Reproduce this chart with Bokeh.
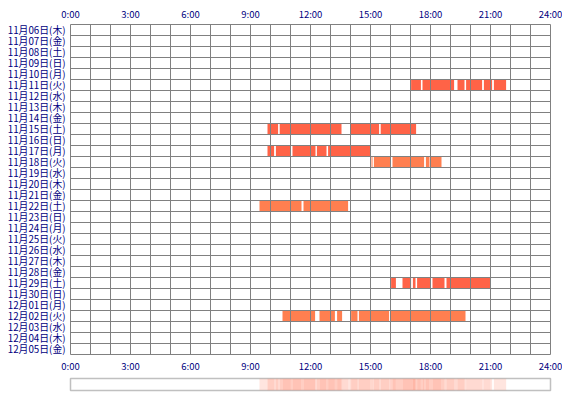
import numpy as np
from bokeh.plotting import figure
from bokeh.models import Range1d, LinearAxis, FixedTicker, ColumnDataSource
from bokeh.layouts import column
from bokeh.embed import file_html
from bokeh.resources import INLINE

# ---------------- data ----------------
days = ["11月06日(木)", "11月07日(金)", "11月08日(土)", "11月09日(日)", "11月10日(月)",
        "11月11日(火)", "11月12日(水)", "11月13日(木)", "11月14日(金)", "11月15日(土)",
        "11月16日(日)", "11月17日(月)", "11月18日(火)", "11月19日(水)", "11月20日(木)",
        "11月21日(金)", "11月22日(土)", "11月23日(日)", "11月24日(月)", "11月25日(火)",
        "11月26日(水)", "11月27日(木)", "11月28日(金)", "11月29日(土)", "11月30日(日)",
        "12月01日(月)", "12月02日(火)", "12月03日(水)", "12月04日(木)", "12月05日(金)"]

hour_ticks = [0, 3, 6, 9, 12, 15, 18, 21, 24]
hour_labels = ["0:00", "3:00", "6:00", "9:00", "12:00", "15:00", "18:00", "21:00", "24:00"]

# sessions (hours of day)
seg_day = (["11月11日(火)"] * 6 + ["11月15日(土)"] * 4 + ["11月17日(月)"] * 5 +
           ["11月18日(火)"] * 5 + ["11月22日(土)"] * 2 + ["11月29日(土)"] * 6 +
           ["12月02日(火)"] * 6)
seg_start = [17.03, 17.60, 19.35, 19.78, 20.67, 21.17,
             9.85, 10.46, 13.98, 15.51,
             9.85, 10.27, 11.10, 12.32, 12.88,
             15.05, 15.17, 16.10, 17.77, 18.02,
             9.45, 11.65,
             16.03, 16.60, 17.12, 17.33, 18.10, 18.80,
             10.60, 12.45, 13.33, 14.03, 14.42, 15.98]
seg_end = [17.52, 19.18, 19.70, 20.58, 21.08, 21.78,
           10.38, 13.55, 15.43, 17.28,
           10.18, 11.02, 12.25, 12.80, 15.00,
           15.10, 16.02, 17.68, 17.95, 18.55,
           11.55, 13.88,
           16.27, 17.03, 17.25, 18.02, 18.70, 21.00,
           12.23, 13.22, 13.58, 14.35, 15.93, 19.75]
coral_days = {"11月18日(火)", "11月22日(土)", "12月02日(火)"}

# ---------------- styles ----------------
LABEL_COLOR = "#000080"
GRID_COLOR = "#808080"
FONT = "Noto Sans CJK JP"

row_idx = [days.index(d) for d in seg_day]
colors = ["#FF7F50" if d in coral_days else "#FF6347" for d in seg_day]
src = ColumnDataSource(dict(left=seg_start, right=seg_end,
                            top=row_idx, bottom=[r + 1 for r in row_idx], color=colors))

p = figure(frame_width=480, frame_height=330,
           x_range=Range1d(0, 24), y_range=Range1d(len(days), 0),
           output_backend="svg", toolbar_location=None,
           min_border_left=70, min_border_right=12, min_border_top=24, min_border_bottom=20,
           x_axis_location="below")
p.quad(left="left", right="right", top="top", bottom="bottom", color="color",
       line_color=None, source=src)

top_axis = LinearAxis()
p.add_layout(top_axis, "above")

for ax in p.xaxis:
    ax.ticker = FixedTicker(ticks=hour_ticks)
    ax.major_label_overrides = {t: l for t, l in zip(hour_ticks, hour_labels)}
    ax.major_tick_out = 0
    ax.major_tick_in = 0
    ax.minor_tick_out = 0
    ax.minor_tick_in = 0
    ax.axis_line_color = None
    ax.major_label_text_color = LABEL_COLOR
    ax.major_label_text_font = FONT
    ax.major_label_text_font_size = "9.5px"
    ax.major_label_standoff = 4

ya = p.yaxis[0]
ya.ticker = FixedTicker(ticks=[i + 0.5 for i in range(len(days))])
ya.major_label_overrides = {i + 0.5: d for i, d in enumerate(days)}
ya.major_tick_out = 0
ya.major_tick_in = 0
ya.minor_tick_out = 0
ya.minor_tick_in = 0
ya.axis_line_color = None
ya.major_label_text_color = LABEL_COLOR
ya.major_label_text_font = FONT
ya.major_label_text_font_size = "9.8px"
ya.major_label_standoff = 5

p.xgrid.ticker = FixedTicker(ticks=list(range(0, 25)))
p.ygrid.ticker = FixedTicker(ticks=list(range(0, len(days) + 1)))
for g in (p.xgrid[0], p.ygrid[0]):
    g.grid_line_color = GRID_COLOR
    g.grid_line_width = 1
    g.level = "overlay"
p.outline_line_color = GRID_COLOR
p.background_fill_color = "white"
p.border_fill_color = "white"

# ---------------- density strip ----------------
mins = np.arange(0, 1440)
centers = (mins + 0.5) / 60.0
counts = np.zeros(len(mins), dtype=int)
for s, e in zip(seg_start, seg_end):
    counts += ((centers >= s) & (centers < e)).astype(int)
runs_l, runs_r, runs_c = [], [], []
i = 0
while i < len(mins):
    j = i
    while j + 1 < len(mins) and counts[j + 1] == counts[i]:
        j += 1
    if counts[i] > 0:
        runs_l.append(mins[i] / 60.0)
        runs_r.append((mins[j] + 1) / 60.0)
        runs_c.append(int(counts[i]))
    i = j + 1
strip_src = ColumnDataSource(dict(left=runs_l, right=runs_r,
                                  alpha=[0.10 + 0.08 * c for c in runs_c]))

p2 = figure(frame_width=480, frame_height=12,
            x_range=p.x_range, y_range=Range1d(0, 1),
            output_backend="svg", toolbar_location=None,
            min_border_left=70, min_border_right=12, min_border_top=3, min_border_bottom=4)
p2.quad(left="left", right="right", top=1, bottom=0, fill_color="#FF6F50",
        fill_alpha="alpha", line_color=None, source=strip_src)
p2.axis.visible = False
p2.grid.visible = False
p2.outline_line_color = "#C0C0C0"
p2.outline_line_width = 1.5

layout = column(p, p2, spacing=0)
open("out.html", "w").write(file_html(layout, INLINE))
